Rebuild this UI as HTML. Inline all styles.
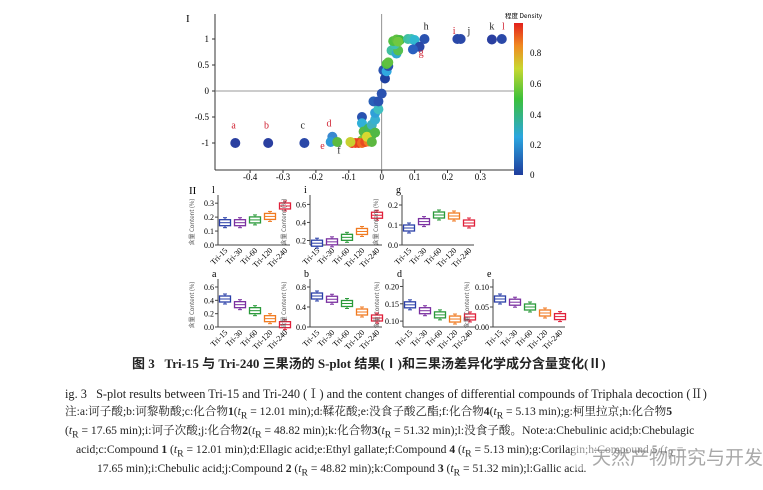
<!DOCTYPE html><html><head><meta charset="utf-8"><style>
body{margin:0;background:#fff;width:763px;height:490px;overflow:hidden;position:relative;font-family:"Liberation Serif","Noto Serif CJK SC",serif;color:#222}
.t{position:absolute;white-space:nowrap}
.n{font-size:11.6px;font-family:'Liberation Serif','Noto Serif CJK SC',serif;line-height:14px}
</style></head><body>
<svg id="s" width="763" height="490" style="position:absolute;left:0;top:0" font-family="Liberation Serif, serif"></svg>
<div class="t" style="left:132px;top:353px;font-size:13px;font-weight:bold;font-family:'Liberation Serif','Noto Sans CJK SC',serif">图 3&nbsp;&nbsp;&nbsp;Tri-15 与 Tri-240 三果汤的 S-plot 结果(Ⅰ)和三果汤差异化学成分含量变化(Ⅱ)</div>
<div class="t" style="left:65px;top:384px;font-size:12.3px">ig. 3&nbsp;&nbsp;&nbsp;S-plot results between Tri-15 and Tri-240 (Ⅰ) and the content changes of differential compounds of Triphala decoction (Ⅱ)</div>
<div class="t n" style="left:65px;top:405px">注:a:诃子酸;b:诃黎勒酸;c:化合物<b>1</b>(<i>t</i><sub>R</sub> = 12.01 min);d:鞣花酸;e:没食子酸乙酯;f:化合物<b>4</b>(<i>t</i><sub>R</sub> = 5.13 min);g:柯里拉京;h:化合物<b>5</b></div>
<div class="t n" style="left:65px;top:424px">(<i>t</i><sub>R</sub> = 17.65 min);i:诃子次酸;j:化合物<b>2</b>(<i>t</i><sub>R</sub> = 48.82 min);k:化合物<b>3</b>(<i>t</i><sub>R</sub> = 51.32 min);l:没食子酸。Note:a:Chebulinic acid;b:Chebulagic</div>
<div class="t n" style="left:76px;top:443px">acid;c:Compound <b>1</b> (<i>t</i><sub>R</sub> = 12.01 min);d:Ellagic acid;e:Ethyl gallate;f:Compound <b>4</b> (<i>t</i><sub>R</sub> = 5.13 min);g:Corilagin;h:Compound <b>5</b> (<i>t</i><sub>R</sub> =</div>
<div class="t n" style="left:97px;top:462px">17.65 min);i:Chebulic acid;j:Compound <b>2</b> (<i>t</i><sub>R</sub> = 48.82 min);k:Compound <b>3</b> (<i>t</i><sub>R</sub> = 51.32 min);l:Gallic acid.</div>
<div class="t" style="left:572px;top:443px;font-size:19px;color:rgba(110,110,110,0.6);font-family:'Noto Sans CJK SC',sans-serif;background:rgba(255,255,255,0.5);padding-left:20px">天然产物研究与开发</div>
<script>
const s=document.getElementById('s');let h='';
const X=v=>381.7+v*329, Y=v=>91-52*v;
h+=`<line x1="215" y1="14" x2="215" y2="170" stroke="#333"/><line x1="215" y1="170" x2="514" y2="170" stroke="#333"/>`;
h+=`<line x1="381.7" y1="14" x2="381.7" y2="170" stroke="#777" stroke-width="0.8"/><line x1="215" y1="91" x2="514" y2="91" stroke="#777" stroke-width="0.8"/>`;
[-0.4,-0.3,-0.2,-0.1,0,0.1,0.2,0.3].forEach(v=>{h+=`<line x1="${X(v)}" y1="170" x2="${X(v)}" y2="173" stroke="#333"/><text x="${X(v)}" y="180" font-size="9" text-anchor="middle">${v}</text>`});
[[1,'1'],[0.5,'0.5'],[0,'0'],[-0.5,'-0.5'],[-1,'-1']].forEach(([v,t])=>{h+=`<line x1="212" y1="${Y(v)}" x2="215" y2="${Y(v)}" stroke="#333"/><text x="209" y="${Y(v)+3}" font-size="9" text-anchor="end">${t}</text>`});
h+=`<text x="186" y="22" font-size="11">I</text>`;
h+=`<defs><linearGradient id="g" x1="0" y1="1" x2="0" y2="0"><stop offset="0" stop-color="#1f3c9c"/><stop offset="0.25" stop-color="#2ba6e0"/><stop offset="0.5" stop-color="#3cc03a"/><stop offset="0.7" stop-color="#c8d830"/><stop offset="0.85" stop-color="#f08a20"/><stop offset="1" stop-color="#e3201c"/></linearGradient></defs>`;
h+=`<rect x="514" y="23" width="9" height="152" fill="url(#g)"/><text x="505" y="18" font-size="6.5" font-family="Noto Sans CJK SC,sans-serif">程度 Density</text>`;
[[0,175],[0.2,145],[0.4,115],[0.6,84],[0.8,53]].forEach(([v,y])=>{h+=`<text x="530" y="${y+3}" font-size="9">${v}</text>`});
const pts=[[-0.445,-1,'#2a3fa0'],[-0.345,-1,'#2a3fa0'],[-0.235,-1,'#2a48a8'],[-0.15,-0.88,'#3a88d0'],[-0.155,-0.98,'#2e9ad8'],[-0.135,-0.98,'#5cba40'],
[-0.06,-0.5,'#2a52b0'],[-0.06,-0.62,'#30b0d8'],[-0.055,-0.78,'#55b845'],[-0.04,-0.72,'#45b855'],[-0.03,-0.65,'#40b0c0'],[-0.02,-0.55,'#38b0d0'],[-0.02,-0.42,'#30a0d8'],[-0.01,-0.35,'#40c0c0'],[-0.025,-0.2,'#2a60b8'],[-0.01,-0.2,'#2a52b0'],[0,-0.05,'#2a52b0'],[-0.03,-0.85,'#50b840'],[-0.045,-0.92,'#60c040'],[-0.06,-0.95,'#7ac840'],
[-0.09,-1,'#e83020'],[-0.08,-1,'#f05020'],[-0.07,-1,'#e84020'],[-0.06,-1,'#f06a20'],[-0.05,-0.98,'#e84a20'],[-0.04,-0.97,'#f08020'],[-0.045,-0.88,'#d8d830'],[-0.03,-0.98,'#5cb840'],[-0.095,-0.98,'#c8d030'],[-0.02,-0.8,'#50b845'],
[0.01,0.24,'#1e40a0'],[0.005,0.4,'#2a52b0'],[0.015,0.38,'#30a8e0'],[0.02,0.48,'#2a52b0'],[0.015,0.52,'#50c040'],[0.02,0.55,'#60c040'],
[0.03,0.78,'#40c0a0'],[0.045,0.72,'#30a8d0'],[0.05,0.78,'#55c050'],[0.04,0.9,'#40c0b0'],[0.035,0.96,'#50c040'],[0.045,0.99,'#60c040'],[0.055,0.98,'#40b840'],[0.05,0.95,'#70c840'],[0.08,1,'#40c0a0'],[0.09,1,'#40c0b0'],[0.1,0.98,'#30b8d0'],[0.13,1,'#2a52b0'],[0.115,0.85,'#2a48a8'],[0.095,0.8,'#2a60c0'],
[0.23,1,'#2a48a8'],[0.24,1,'#2a48a8'],[0.335,0.99,'#2a3fa0'],[0.365,1,'#2a48a8']];
pts.forEach(([x,y,c])=>{h+=`<circle cx="${X(x)}" cy="${Y(y)}" r="5" fill="${c}"/>`});
[['a',-0.45,-0.72,'#d02030'],['b',-0.35,-0.72,'#d02030'],['c',-0.24,-0.72,'#222'],['d',-0.16,-0.68,'#d02030'],['e',-0.18,-1.12,'#d02030'],['f',-0.13,-1.2,'#222'],['g',0.12,0.68,'#d02030'],['h',0.135,1.18,'#222'],['i',0.22,1.1,'#d02030'],['j',0.265,1.1,'#222'],['k',0.335,1.18,'#222'],['l',0.37,1.18,'#d02030']].forEach(([t,x,y,c])=>{h+=`<text x="${X(x)}" y="${Y(y)}" font-size="10" fill="${c}" text-anchor="middle">${t}</text>`});
h+=`<text x="189" y="194" font-size="11">II</text>`;
const cols=['#2a3fa8','#7a2fa0','#2a9a3a','#f07a20','#e0203a'];
function mini(ax,top,bot,ymin,ymax,ticks,vals,lab){
 const W=72,Yp=v=>bot-(v-ymin)/(ymax-ymin)*(bot-top);
 h+=`<line x1="${ax}" y1="${top-4}" x2="${ax}" y2="${bot}" stroke="#444"/><line x1="${ax}" y1="${bot}" x2="${ax+W}" y2="${bot}" stroke="#444"/>`;
 h+=`<text x="${ax-6}" y="${top-6}" font-size="10">${lab}</text>`;
 ticks.forEach(t=>{h+=`<line x1="${ax-3}" y1="${Yp(+t)}" x2="${ax}" y2="${Yp(+t)}" stroke="#444"/><text x="${ax-4}" y="${Yp(+t)+3}" font-size="8" text-anchor="end">${t}</text>`});
 h+=`<text transform="translate(${ax-24},${(top+bot)/2}) rotate(-90)" font-size="6" text-anchor="middle" font-family="Noto Sans CJK SC,sans-serif" fill="#555">含量 Content (%)</text>`;
 ['Tri-15','Tri-30','Tri-60','Tri-120','Tri-240'].forEach((n,i)=>{const cx=ax+7+i*15,v=vals[i],y=Yp(v);
  h+=`<line x1="${cx}" y1="${y-5}" x2="${cx}" y2="${y+5}" stroke="${cols[i]}"/><line x1="${cx-2}" y1="${y-5}" x2="${cx+2}" y2="${y-5}" stroke="${cols[i]}"/><line x1="${cx-2}" y1="${y+5}" x2="${cx+2}" y2="${y+5}" stroke="${cols[i]}"/>`;
  h+=`<rect x="${cx-5.5}" y="${y-3}" width="11" height="6" fill="#fff" stroke="${cols[i]}" stroke-width="1.3"/><line x1="${cx-5.5}" y1="${y}" x2="${cx+5.5}" y2="${y}" stroke="${cols[i]}"/>`;
  h+=`<text transform="translate(${cx+3},${bot+6}) rotate(-45)" font-size="8" text-anchor="end">${n}</text>`;});
}
mini(218,199,245,0,0.33,['0.0','0.1','0.2','0.3'],[0.16,0.16,0.18,0.205,0.28],'l');
mini(310,199,245,0.15,0.66,['0.2','0.4','0.6'],[0.17,0.185,0.235,0.30,0.48],'i');
mini(402,199,245,0,0.23,['0.0','0.1','0.2'],[0.085,0.117,0.15,0.145,0.11],'g');
mini(218,283,327,0,0.66,['0.0','0.2','0.4','0.6'],[0.42,0.335,0.245,0.125,0.035],'a');
mini(310,283,327,0,0.88,['0.0','0.4','0.8'],[0.62,0.555,0.47,0.3,0.18],'b');
mini(403,283,327,0.083,0.21,['0.10','0.15','0.20'],[0.147,0.13,0.118,0.106,0.112],'d');
mini(493,283,327,0,0.11,['0.00','0.05','0.10'],[0.07,0.062,0.05,0.035,0.026],'e');
s.innerHTML=h;
</script></body></html>
